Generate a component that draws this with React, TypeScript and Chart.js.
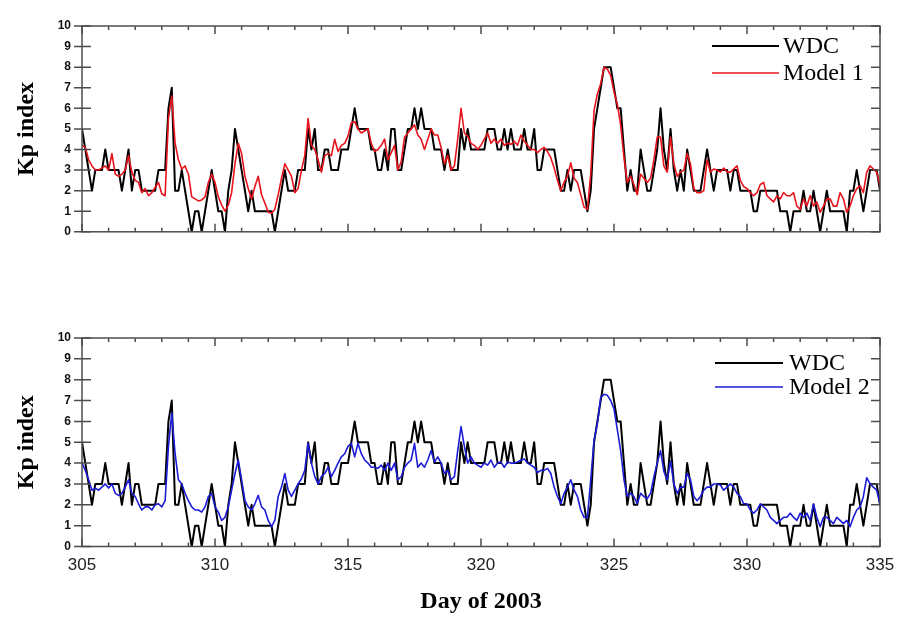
import React, { useEffect, useRef } from "react";
import { Chart, registerables } from "chart.js";

Chart.register(...registerables);

// ---- axis / categories ----
const START_DAY = 305;
const END_DAY = 335;
const SAMPLES_PER_DAY = 8; // 3-hourly Kp values
const X_TICK_STEP = 5;
const Y_MIN = 0;
const Y_MAX = 10;
const Y_TICKS = [0, 1, 2, 3, 4, 5, 6, 7, 8, 9, 10];

const SERIES_LABELS = ["WDC", "Model 1", "Model 2"];
const X_TITLE = "Day of 2003";
const Y_TITLE = "Kp index";

// ---- series values (3-hourly, day 305.0 .. 335.0) ----
const WDC_KP = [
  5, 4, 3, 2, 3, 3, 3, 4,
  3, 3, 3, 3, 2, 3, 4, 2,
  3, 3, 2, 2, 2, 2, 2, 3,
  3, 3, 6, 7, 2, 2, 3, 2,
  1, 0, 1, 1, 0, 1, 2, 3,
  2, 1, 1, 0, 2, 3, 5, 4,
  3, 2, 1, 2, 1, 1, 1, 1,
  1, 1, 0, 1, 2, 3, 2, 2,
  2, 3, 3, 3, 5, 4, 5, 3,
  3, 4, 4, 3, 3, 3, 4, 4,
  4, 5, 6, 5, 5, 5, 5, 4,
  4, 3, 3, 4, 3, 5, 5, 3,
  3, 4, 5, 5, 6, 5, 6, 5,
  5, 5, 4, 4, 4, 3, 4, 3,
  3, 3, 5, 4, 5, 4, 4, 4,
  4, 4, 5, 5, 5, 4, 4, 5,
  4, 5, 4, 4, 4, 5, 4, 4,
  5, 3, 3, 4, 4, 4, 4, 3,
  2, 2, 3, 2, 3, 3, 3, 2,
  1, 2, 5, 6, 7, 8, 8, 8,
  7, 6, 6, 4, 2, 3, 2, 2,
  4, 3, 2, 2, 3, 4, 6, 4,
  3, 5, 3, 2, 3, 2, 4, 3,
  2, 2, 2, 3, 4, 3, 2, 3,
  3, 3, 3, 2, 3, 3, 2, 2,
  2, 2, 1, 1, 2, 2, 2, 2,
  2, 2, 1, 1, 1, 0, 1, 1,
  1, 2, 1, 1, 2, 1, 0, 1,
  2, 1, 1, 1, 1, 1, 0, 2,
  2, 3, 2, 1, 2, 3, 3, 3,
  2,
];

const MODEL1_KP = [
  4.2, 4.1, 3.5, 3.2, 3.0, 3.0, 3.1, 3.2,
  3.0, 3.8, 2.8, 2.7, 2.8, 3.0, 3.7, 2.9,
  2.5, 2.4, 1.9, 2.1, 1.75, 1.9, 2.15, 2.4,
  1.85, 1.75, 5.5, 6.6, 4.3, 3.5, 3.05, 3.2,
  2.8, 1.7, 1.6, 1.5, 1.55, 1.7, 2.4, 2.8,
  2.4, 1.7, 1.3, 1.0, 1.3, 1.9, 3.3, 4.3,
  3.8, 2.7, 2.1, 1.6, 2.2, 2.7, 1.8, 1.4,
  0.95, 0.9, 1.1, 1.8, 2.6, 3.3, 3.0, 2.7,
  1.9, 2.1, 3.0, 3.7, 5.5, 4.2, 4.0, 3.5,
  2.9, 3.7, 3.8, 3.7, 4.5, 3.9, 4.2, 4.3,
  4.65, 5.3, 5.35, 5.0, 4.8, 4.9, 5.0, 4.3,
  3.9, 4.0, 4.2, 4.5, 3.5, 3.85, 4.2, 3.0,
  3.4, 4.6, 4.8, 5.0, 5.2, 4.7, 4.5, 4.0,
  4.5, 5.0, 4.7, 4.7, 4.1, 3.3, 3.7, 3.0,
  3.2, 4.5, 6.0, 4.8, 4.65, 4.3, 4.2, 4.0,
  4.2, 4.5, 4.8, 4.3, 4.5, 4.3, 4.5, 4.2,
  4.3, 4.25, 4.4, 4.2, 4.7, 4.4, 4.2, 4.0,
  4.0, 3.85, 4.0, 4.1, 3.9, 3.6, 3.1, 2.5,
  2.0, 2.4, 2.7, 3.35, 2.6, 2.4, 1.8, 1.2,
  1.1, 2.8, 5.9, 6.7, 7.2, 8.0, 7.9, 7.6,
  6.8, 6.2, 5.2, 3.6, 2.4, 2.7, 2.3, 1.8,
  2.8, 2.6, 2.4, 2.6, 3.5, 4.6, 4.6, 3.2,
  2.9, 4.6, 3.3, 2.7, 2.9, 3.0, 3.8, 3.3,
  2.1, 1.9, 1.9, 2.0, 3.5, 2.9, 3.05, 3.0,
  2.9, 3.1, 2.9, 2.9, 3.05, 3.2, 2.5, 2.2,
  2.1, 1.9, 1.75, 1.9, 2.3, 2.4, 1.75, 1.6,
  1.45, 1.75, 1.6, 1.9, 1.75, 1.75, 1.9, 1.25,
  1.1, 1.6, 1.25, 1.75, 1.25, 1.45, 0.95, 1.25,
  1.6, 1.6, 1.25, 1.25, 1.9, 1.6, 0.95, 1.25,
  1.75, 2.1, 2.25, 1.9, 2.9, 3.2, 3.05, 2.9,
  2.25,
];

const MODEL2_KP = [
  4.0, 3.65, 3.2, 2.7, 2.8, 2.7, 2.85, 3.0,
  2.8, 3.0, 2.55, 2.45, 2.55, 2.85, 3.2, 2.55,
  2.4, 2.05, 1.75, 1.9, 1.9, 1.75, 2.0, 2.05,
  1.9, 2.2, 4.8, 6.4, 4.45, 3.2, 3.0, 2.55,
  2.2, 1.9, 1.75, 1.75, 1.65, 1.9, 2.4, 2.55,
  1.9, 1.65, 1.25, 1.4, 1.9, 2.7, 3.5, 4.15,
  3.2, 2.2, 1.9, 1.75, 2.05, 2.45, 1.9, 1.75,
  1.25, 0.95, 1.25, 2.4, 2.85, 3.5, 2.7, 2.4,
  2.7, 3.0, 3.25, 3.65, 4.95, 4.0, 3.35, 3.0,
  3.35, 3.5, 3.8, 3.35, 3.65, 4.0, 4.3, 4.45,
  4.8, 4.95, 4.3, 4.95, 4.45, 4.15, 4.0, 3.8,
  3.8, 3.75, 3.9, 3.65, 4.0, 3.65, 4.0, 3.2,
  3.35, 3.8, 4.0, 4.15, 4.95, 3.8, 4.0, 3.8,
  4.15, 4.6, 4.05, 4.3, 4.0, 3.5, 3.65, 3.2,
  3.35, 4.6, 5.75, 4.8, 4.0, 4.3, 4.0, 3.9,
  3.8, 4.0, 3.9, 4.15, 3.8, 4.0, 4.05, 3.8,
  4.05, 4.0, 4.0, 4.05, 4.15, 4.2, 4.0, 3.9,
  3.8, 3.55, 3.65, 3.65, 3.75, 3.5, 2.85, 2.4,
  2.05, 2.55, 2.85, 3.2, 2.7, 2.4, 1.75, 1.4,
  1.4, 3.2, 5.1, 5.9, 7.15, 7.3, 7.25, 7.0,
  6.6, 5.6, 4.6, 3.2, 2.4, 2.55, 2.4, 2.05,
  2.55, 2.4, 2.3, 2.55, 3.35, 4.0, 4.6, 3.6,
  3.2, 4.1, 3.0, 2.55, 2.85, 2.85, 3.5, 3.2,
  2.4, 2.2, 2.4, 2.7, 2.85, 2.85, 3.0, 3.0,
  2.95, 2.7, 2.85, 3.0, 2.85, 2.55, 2.4, 2.05,
  2.05, 1.75, 1.6, 1.75, 2.05, 1.9, 1.75, 1.4,
  1.25, 1.1, 1.25, 1.4, 1.4, 1.6, 1.4, 1.25,
  1.6, 1.4, 1.6, 1.25, 2.05, 1.4, 0.95, 1.4,
  1.4, 1.25, 1.1, 1.4, 1.25, 1.1, 1.25, 0.95,
  1.4, 1.75, 1.9, 2.4, 3.3, 3.0, 2.85, 2.7,
  2.05,
];

// time of each 3-hourly sample (day of year)
const DAYS = WDC_KP.map((_, i) => START_DAY + i / SAMPLES_PER_DAY);

const SERIF = '"Liberation Serif", "Times New Roman", serif';
const SANS = '"Liberation Sans", Arial, sans-serif';

const framePlugin = {
  id: "kpFrame",
  afterDatasetsDraw(chart: any, _args: any, opts: any) {
    const { ctx, chartArea: a, scales } = chart;
    const xs = scales.x;
    const ys = scales.y;
    ctx.save();
    ctx.strokeStyle = "#4d4d4d";
    ctx.lineWidth = 1.5;
    ctx.strokeRect(a.left, a.top, a.right - a.left, a.bottom - a.top);
    ctx.beginPath();
    for (let d = START_DAY; d <= END_DAY; d++) {
      const px = xs.getPixelForValue(d);
      const len = d % X_TICK_STEP === 0 ? 8 : 4;
      ctx.moveTo(px, a.bottom);
      ctx.lineTo(px, a.bottom - len);
      ctx.moveTo(px, a.top);
      ctx.lineTo(px, a.top + len);
    }
    for (const v of Y_TICKS) {
      const py = ys.getPixelForValue(v);
      ctx.moveTo(a.left - 8, py);
      ctx.lineTo(a.left + 9, py);
      ctx.moveTo(a.right - 9, py);
      ctx.lineTo(a.right, py);
    }
    ctx.stroke();

    // legend
    if (opts && opts.rows) {
      ctx.font = `24px ${SERIF}`;
      ctx.textBaseline = "middle";
      ctx.textAlign = "left";
      chart.data.datasets.forEach((ds: any, i: number) => {
        const ly = opts.rows[i];
        ctx.beginPath();
        ctx.strokeStyle = ds.borderColor;
        ctx.lineWidth = ds.borderWidth;
        ctx.moveTo(opts.x0, ly);
        ctx.lineTo(opts.x1, ly);
        ctx.stroke();
        ctx.fillStyle = "#000";
        ctx.fillText(ds.label, opts.textX, ly + 1);
      });
    }
    ctx.restore();
  },
};

type PanelProps = {
  model: number[];
  modelLabel: string;
  modelColor: string;
  top: number;
  height: number;
  padTop: number;
  showX: boolean;
  legend: { x0: number; x1: number; textX: number; rows: number[] };
};

function Panel(props: PanelProps) {
  const ref = useRef<HTMLCanvasElement | null>(null);
  useEffect(() => {
    if (!ref.current) return;
    const chart = new Chart(ref.current, {
      type: "line",
      data: {
        datasets: [
          {
            label: SERIES_LABELS[0],
            data: DAYS.map((d, i) => ({ x: d, y: WDC_KP[i] })),
            borderColor: "#000000",
            borderWidth: 2,
            order: 1,
          },
          {
            label: props.modelLabel,
            data: DAYS.map((d, i) => ({ x: d, y: props.model[i] })),
            borderColor: props.modelColor,
            borderWidth: 1.6,
            order: 0,
          },
        ],
      },
      options: {
        responsive: false,
        animation: false,
        devicePixelRatio: 1,
        layout: {
          padding: {
            top: props.padTop,
            right: 32,
            left: 0,
            bottom: props.showX ? 0 : 17,
          },
        },
        elements: {
          point: { radius: 0 },
          line: { tension: 0, borderJoinStyle: "round" },
        },
        plugins: {
          legend: { display: false },
          tooltip: { enabled: false },
          kpFrame: props.legend,
        } as any,
        scales: {
          x: {
            type: "linear",
            min: START_DAY,
            max: END_DAY,
            display: props.showX,
            grid: { display: false, drawTicks: false },
            border: { display: false },
            ticks: {
              stepSize: X_TICK_STEP,
              autoSkip: false,
              maxRotation: 0,
              padding: 9,
              color: "#222",
              font: { family: SANS, size: 17 },
            },
            title: {
              display: true,
              text: X_TITLE,
              color: "#000",
              font: { family: SERIF, size: 24, weight: "bold" },
              padding: { top: 0, bottom: 7 },
            },
            afterFit: (s: any) => {
              s.height = props.showX ? 76.5 : 0;
            },
          },
          y: {
            min: Y_MIN,
            max: Y_MAX,
            grid: { display: false, drawTicks: false },
            border: { display: false },
            ticks: {
              stepSize: 1,
              padding: 11,
              color: "#111",
              font: { family: SANS, size: 12, weight: "bold" },
            },
            title: {
              display: true,
              text: Y_TITLE,
              color: "#000",
              font: { family: SERIF, size: 24, weight: "bold" },
              padding: { top: 12, bottom: 0 },
            },
            afterFit: (s: any) => {
              s.width = 82;
            },
          },
        },
      } as any,
      plugins: [framePlugin],
    });
    return () => chart.destroy();
  }, []);
  return (
    <canvas
      ref={ref}
      width={912}
      height={props.height}
      style={{
        position: "absolute",
        left: 0,
        top: props.top,
        width: 912,
        height: props.height,
        display: "block",
      }}
    />
  );
}

export default function App() {
  return (
    <div
      style={{
        position: "absolute",
        left: 0,
        top: 0,
        width: 912,
        height: 623,
        background: "#fff",
      }}
    >
      <Panel
        model={MODEL1_KP}
        modelLabel={SERIES_LABELS[1]}
        modelColor="#e8141c"
        top={0}
        height={250}
        padTop={26}
        showX={false}
        legend={{ x0: 712, x1: 779, textX: 783, rows: [46, 73] }}
      />
      <Panel
        model={MODEL2_KP}
        modelLabel={SERIES_LABELS[2]}
        modelColor="#1c1cd8"
        top={300}
        height={323}
        padTop={38}
        showX={true}
        legend={{ x0: 715, x1: 783, textX: 789, rows: [63, 87] }}
      />
    </div>
  );
}
